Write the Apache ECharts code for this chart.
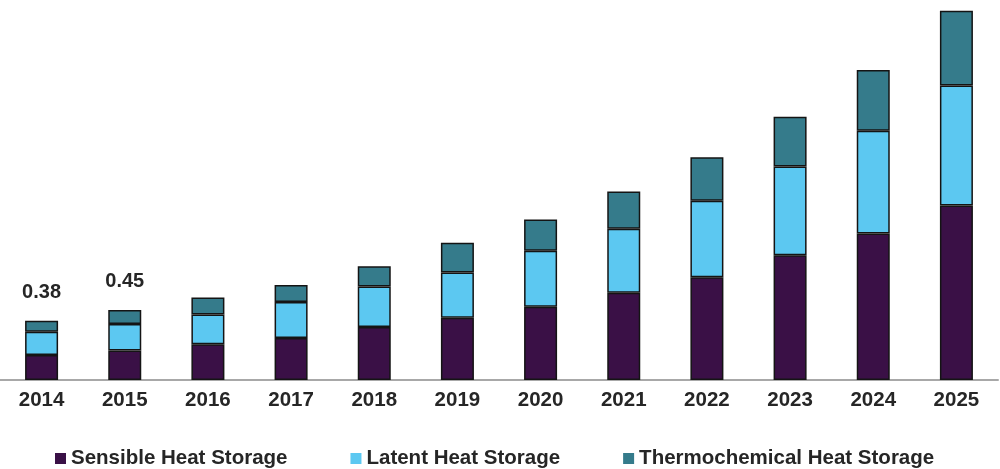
<!DOCTYPE html>
<html>
<head>
<meta charset="utf-8">
<title>Thermal Energy Storage Market by Technology, 2014-2025</title>
<script src="https://cdn.jsdelivr.net/npm/echarts@6/dist/echarts.min.js"></script>
<style>
  html, body { margin: 0; padding: 0; background: #ffffff; }
  #chart { width: 1000px; height: 469px; }
</style>
</head>
<body>
<div id="chart"></div>
<script>
// Years on the category axis
const years = ['2014', '2015', '2016', '2017', '2018', '2019', '2020', '2021', '2022', '2023', '2024', '2025'];

// Market size by storage technology (stacked)
const sensible = [0.16, 0.19, 0.23, 0.27, 0.34, 0.40, 0.47, 0.56, 0.66, 0.80, 0.94, 1.12];
const latent = [0.15, 0.17, 0.19, 0.23, 0.26, 0.29, 0.36, 0.41, 0.49, 0.57, 0.66, 0.77];
const thermochemical = [0.07, 0.09, 0.11, 0.11, 0.13, 0.19, 0.20, 0.24, 0.28, 0.32, 0.39, 0.48];

// Years whose stack total is written above the bar
const labeledYears = ['2014', '2015'];

const seriesNames = ['Sensible Heat Storage', 'Latent Heat Storage', 'Thermochemical Heat Storage'];
const seriesColors = ['#3a1046', '#5cc8f1', '#357b8b'];

const FONT = '"Liberation Sans", Arial, sans-serif';
const TEXT_COLOR = '#262626';

function stackTotal(i) {
  return sensible[i] + latent[i] + thermochemical[i];
}

function barSeries(name, data, color, withLabel) {
  const s = {
    name: name,
    type: 'bar',
    stack: 'market',
    data: data,
    barWidth: 33,
    itemStyle: { color: color, borderColor: '#141414', borderWidth: 1.5 },
    emphasis: { disabled: true }
  };
  if (withLabel) {
    s.label = {
      show: true,
      position: 'top',
      distance: 18,
      fontFamily: FONT,
      fontSize: 20,
      fontWeight: 'bold',
      color: TEXT_COLOR,
      formatter: function (p) {
        return labeledYears.indexOf(p.name) >= 0 ? stackTotal(p.dataIndex).toFixed(2) : '';
      }
    };
  }
  return s;
}

const chart = echarts.init(document.getElementById('chart'), null, { renderer: 'canvas' });

chart.setOption({
  animation: false,
  backgroundColor: '#ffffff',
  grid: { left: -2, right: 2, top: 6, bottom: 89, containLabel: false },
  legend: {
    left: 50,
    top: 443,
    icon: 'rect',
    itemWidth: 11,
    itemHeight: 11,
    itemGap: 63,
    itemStyle: { borderWidth: 0 },
    textStyle: { fontFamily: FONT, fontSize: 20.5, fontWeight: 'bold', color: TEXT_COLOR },
    data: seriesNames
  },
  xAxis: {
    type: 'category',
    data: years,
    axisLine: { show: true, lineStyle: { color: '#a8a8a8', width: 2 } },
    axisTick: { show: false },
    axisLabel: { fontFamily: FONT, fontSize: 20.5, fontWeight: 'bold', color: TEXT_COLOR, margin: 10 }
  },
  yAxis: {
    type: 'value',
    min: 0,
    max: 2.4,
    show: false,
    splitLine: { show: false }
  },
  series: [
    barSeries(seriesNames[0], sensible, seriesColors[0], false),
    barSeries(seriesNames[1], latent, seriesColors[1], false),
    barSeries(seriesNames[2], thermochemical, seriesColors[2], true)
  ]
});
</script>
</body>
</html>
